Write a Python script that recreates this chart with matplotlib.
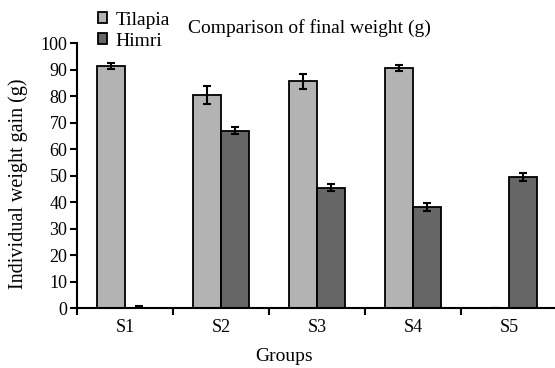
import numpy as np
import matplotlib.pyplot as plt

groups = ['S1', 'S2', 'S3', 'S4', 'S5']
tilapia = [91.5, 80.5, 85.7, 90.8, 0.0]
tilapia_err = [1.2, 3.4, 2.9, 1.2, 0.0]
himri = [0.0, 67.0, 45.5, 38.1, 49.5]
himri_err = [0.9, 1.3, 1.3, 1.5, 1.6]

plt.rcParams['font.family'] = ['Liberation Serif', 'DejaVu Serif']
plt.rcParams['font.size'] = 13

fig = plt.figure(figsize=(5.55, 3.68), dpi=100)
ax = fig.add_axes([0.139, 0.162, 0.865, 0.72])

x = np.arange(len(groups)) + 0.5
w = 0.29
b1 = ax.bar(x - w / 2, tilapia, w, color='#b3b3b3', edgecolor='black',
            linewidth=1.3, label='Tilapia')
b2 = ax.bar(x + w / 2, himri, w, color='#666666', edgecolor='black',
            linewidth=1.3, label='Himri')
ax.errorbar(x - w / 2, tilapia, yerr=tilapia_err, fmt='none', ecolor='black',
            elinewidth=1.5, capsize=3, capthick=1.5)
ax.errorbar(x + w / 2, himri, yerr=himri_err, fmt='none', ecolor='black',
            elinewidth=1.5, capsize=3, capthick=1.5)

ax.set_xlim(0, 5)
ax.set_ylim(0, 100)
ax.set_yticks(range(0, 101, 10))
ax.set_xticks(x)
ax.set_xticklabels(groups)
ax.set_xticks(np.arange(0, 6), minor=True)
ax.tick_params(axis='x', which='major', length=0, pad=8)
ax.tick_params(axis='x', which='minor', length=5, width=1.5, direction='out')
ax.tick_params(axis='y', length=5, width=1.5, direction='out', pad=2)

for s in ['top', 'right']:
    ax.spines[s].set_visible(False)
for s in ['left', 'bottom']:
    ax.spines[s].set_linewidth(1.5)

ax.set_ylabel('Individual weight gain (g)', fontsize=14.5)
ax.yaxis.set_label_coords(-0.103, 0.469)
ax.set_xlabel('Groups', fontsize=14)
ax.xaxis.set_label_coords(0.43, -0.148)

fig.text(0.558, 0.924, 'Comparison of final weight (g)', ha='center', va='center',
         fontsize=14)
fig.legend(handles=[b1, b2], loc='upper left', bbox_to_anchor=(0.155, 1.0),
           frameon=False, handlelength=0.5, handleheight=0.5, handletextpad=0.4,
           labelspacing=0.2, borderaxespad=0.2,
           prop={'family': ['Liberation Serif', 'DejaVu Serif'], 'size': 14})

fig.savefig('out.png', dpi=100)
